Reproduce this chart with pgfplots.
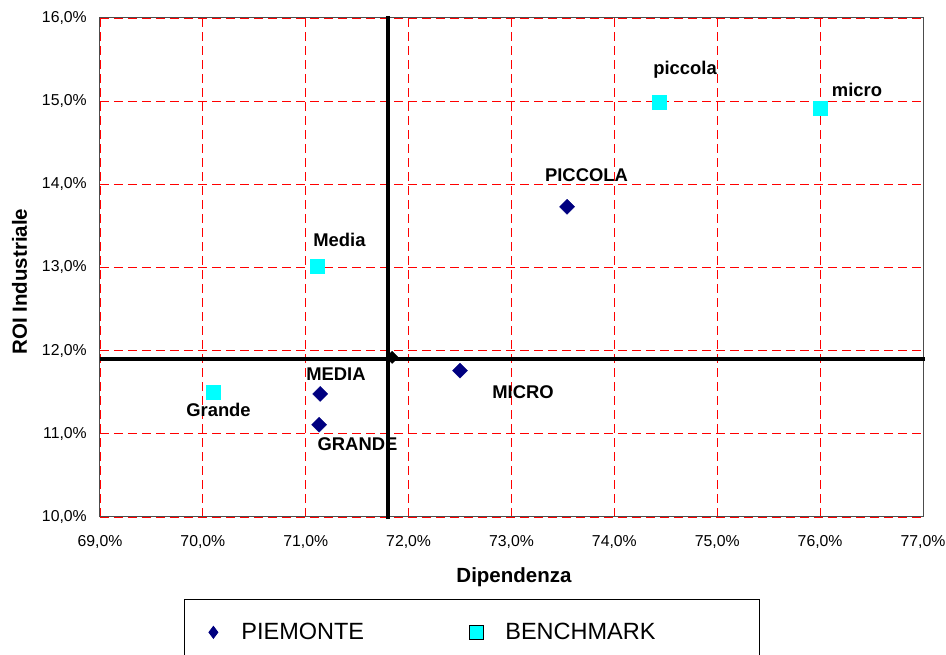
\documentclass[border=0pt]{standalone}
\usepackage{pgfplots}
\pgfplotsset{compat=1.18}
\usepackage{fontspec}
\setmainfont{Liberation Sans}
\definecolor{navyblue}{RGB}{0,0,128}
\definecolor{benchcyan}{RGB}{0,255,255}
\definecolor{gridred}{RGB}{255,0,0}
\tikzset{lbl/.style={font=\bfseries\fontsize{18.4}{22}\selectfont, inner sep=0pt, anchor=center}}
\begin{document}
\begin{tikzpicture}
\begin{axis}[
  at={(100pt,138pt)}, anchor=south west,
  scale only axis, width=823pt, height=499pt,
  xmin=69, xmax=77, ymin=10, ymax=16,
  xtick={69,70,71,72,73,74,75,76,77},
  ytick={10,11,12,13,14,15,16},
  xticklabels={{69,0\%},{70,0\%},{71,0\%},{72,0\%},{73,0\%},{74,0\%},{75,0\%},{76,0\%},{77,0\%}},
  yticklabels={{10,0\%},{11,0\%},{12,0\%},{13,0\%},{14,0\%},{15,0\%},{16,0\%}},
  major tick length=0pt,
  tick label style={font=\fontsize{15.8}{19}\selectfont, inner sep=0pt},
  xticklabel style={anchor=base, yshift=-29.5pt},
  yticklabel style={anchor=east, xshift=-13pt},
  grid=major,
  major grid style={gridred, dash pattern=on 9pt off 5pt, line width=0.8pt},
  axis line style={black!70, line width=1pt},
  xlabel={Dipendenza},
  ylabel={ROI Industriale},
  label style={font=\bfseries\fontsize{20.5}{24}\selectfont},
  xlabel style={at={(axis description cs:0.503,-0.1303)}, anchor=base},
  ylabel style={at={(axis description cs:-0.0887,0.4719)}, anchor=base},
  clip=false,
  legend image code/.code={\path[draw=none] (-29pt,0pt) -- (28pt,0pt); \draw[#1] plot coordinates {(0pt,0pt)};},
  legend columns=2,
  legend cell align=left,
  legend style={at={(axis description cs:0.10207,-0.16433)}, anchor=north west,
    draw=black, line width=0.8pt, inner sep=0pt, column sep=0pt,
    font=\fontsize{23.5}{28}\selectfont,
    nodes={inner xsep=0pt, inner ysep=24pt}},
]
\addlegendimage{only marks, mark=diamond*, mark size=6pt, color=navyblue}
\addlegendentry{\makebox[206pt][l]{PIEMONTE}}
\addlegendimage{only marks, mark=square*, mark size=7pt, mark options={fill=benchcyan, draw=black, line width=0.8pt}}
\addlegendentry{\makebox[254.5pt][l]{\hspace{1pt}BENCHMARK}}

% quadrant lines
\addplot[black, line width=4pt, forget plot] coordinates {(71.8,9.975) (71.8,16.02)};
\addplot[black, line width=4pt, forget plot] coordinates {(69,11.9) (77.02,11.9)};

% PIEMONTE
\addplot[only marks, mark=square*, mark size=5.3pt, color=navyblue,
  mark options={rotate=45, fill=navyblue, draw=navyblue}, forget plot]
  coordinates {(73.54,13.73) (72.50,11.76) (71.14,11.48) (71.13,11.11)};
% average point
\addplot[only marks, mark=square*, mark size=4.3pt, color=black,
  mark options={rotate=45, fill=black, draw=black}, forget plot]
  coordinates {(71.84,11.92)};
% BENCHMARK
\addplot[only marks, mark=square*, mark size=7pt,
  mark options={fill=benchcyan, draw=benchcyan}, forget plot]
  coordinates {(74.44,14.99) (76.00,14.91) (71.11,13.01) (70.10,11.50)};

\node[lbl] at (axis cs:74.687,15.375) {piccola};
\node[lbl] at (axis cs:76.358,15.134) {micro};
\node[lbl] at (axis cs:73.729,14.106) {PICCOLA};
\node[lbl] at (axis cs:71.328,13.331) {Media};
\node[lbl] at (axis cs:71.294,11.720) {MEDIA};
\node[lbl] at (axis cs:70.152,11.293) {Grande};
\node[lbl] at (axis cs:71.503,10.878) {GRANDE};
\node[lbl] at (axis cs:73.112,11.497) {MICRO};
\end{axis}
\pgfresetboundingbox
\path[use as bounding box] (0,0) rectangle (946pt,655pt);
\end{tikzpicture}
\end{document}
